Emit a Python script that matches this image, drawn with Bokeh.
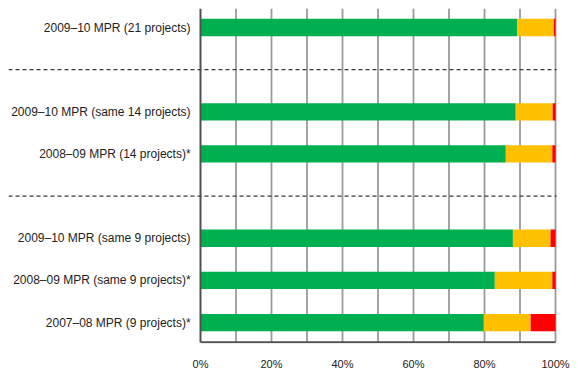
from bokeh.plotting import figure
from bokeh.models import Range1d, FixedTicker, ColumnDataSource
from bokeh.core.properties import value
from bokeh.embed import file_html
from bokeh.resources import INLINE

# ---- data ----
groups = [
    ["2009\u201310 MPR (21 projects)"],
    ["2009\u201310 MPR (same 14 projects)", "2008\u201309 MPR (14 projects)*"],
    ["2009\u201310 MPR (same 9 projects)", "2008\u201309 MPR (same 9 projects)*", "2007\u201308 MPR (9 projects)*"],
]
green = [89.2, 88.8, 86.0, 88.0, 82.9, 79.8]
amber = [10.3, 10.4, 13.1, 10.6, 16.2, 13.2]
red = [0.5, 0.8, 0.9, 1.4, 0.9, 7.0]
tick_values = [0, 20, 40, 60, 80, 100]
tick_labels = ["0%", "20%", "40%", "60%", "80%", "100%"]

# ---- positions (slots, with a separator slot between groups) ----
labels, ypos, seps = [], [], []
slot = 0
for gi, g in enumerate(groups):
    if gi > 0:
        seps.append(slot)
        slot += 1
    for lab in g:
        labels.append(lab)
        ypos.append(slot)
        slot += 1

y_top = -0.4508
y_axis = 7.466
y_bot = 7.497
x_left = -54.08
x_right = 105.63

p = figure(width=575, height=380, output_backend="svg", toolbar_location=None,
           x_range=Range1d(x_left, x_right), y_range=Range1d(y_bot, y_top),
           min_border_left=8, min_border_right=0, min_border_top=8, min_border_bottom=37)
p.outline_line_color = None
p.xgrid.visible = False
p.ygrid.visible = False
p.yaxis.visible = False
p.background_fill_color = None
p.border_fill_color = "white"

xa = p.xaxis[0]
xa.ticker = FixedTicker(ticks=tick_values)
xa.major_label_overrides = {v: l for v, l in zip(tick_values, tick_labels)}
xa.axis_line_color = None
xa.major_tick_line_color = None
xa.minor_tick_line_color = None
xa.major_tick_out = 0
xa.major_label_standoff = 14
xa.major_label_text_font = "Liberation Sans"
xa.major_label_text_font_size = "11px"
xa.major_label_text_color = "#222222"

# gridlines
gx = list(range(10, 101, 10))
p.segment(x0=gx, x1=gx, y0=[y_top] * len(gx), y1=[y_axis] * len(gx),
          line_color="#9a9a9a", line_width=1.8)

# separators (dashed)
p.segment(x0=[x_left] * len(seps), x1=[100.3] * len(seps), y0=seps, y1=seps,
          line_color="#3a3a3a", line_width=1.3, line_dash="4 3")

# bars
left_a = green
left_r = [g + a for g, a in zip(green, amber)]
right_r = [g + a + r for g, a, r in zip(green, amber, red)]
bh = 0.41
p.hbar(y=ypos, left=[0] * len(green), right=green, height=bh, color="#00B050", line_color=None)
p.hbar(y=ypos, left=left_a, right=left_r, height=bh, color="#FFC000", line_color=None)
p.hbar(y=ypos, left=left_r, right=right_r, height=bh, color="#FF0000", line_color=None)

# axis lines
p.segment(x0=[0], x1=[0], y0=[y_top], y1=[y_axis], line_color="#505050", line_width=2)
p.segment(x0=[0], x1=[100], y0=[y_axis], y1=[y_axis], line_color="#505050", line_width=2)

# category labels
src = ColumnDataSource(dict(x=[-2.8] * len(labels), y=ypos, t=labels))
p.text(x="x", y="y", text="t", source=src, text_align="right", text_baseline="middle",
       text_font=value("Liberation Sans"), text_font_size="12px", text_color="#222222")

open("out.html", "w").write(file_html(p, INLINE))
